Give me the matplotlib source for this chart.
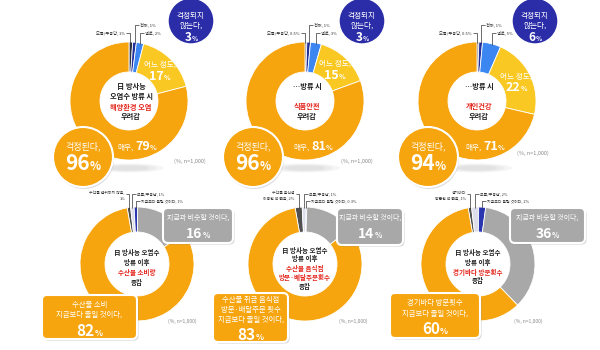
import matplotlib
matplotlib.use('Agg')
import numpy as np
import matplotlib.pyplot as plt
from matplotlib.patches import Circle, FancyBboxPatch, Ellipse

plt.rcParams['font.family'] = ['Noto Sans CJK KR', 'DejaVu Sans']

# ---------------- data ----------------
top_labels = ['모름/무응답', '전혀', '별로', '어느 정도', '매우']
top_values = [[1, 1, 2, 17, 79],
              [0.5, 1, 3, 15, 81],
              [0.5, 1, 5, 22, 71]]
top_titles = [[('日 방사능', 'k'), ('오염수 방류 시', 'k'), ('해양환경 오염', 'r'), ('우려감', 'k')],
              [('…방류 시', 'k'), ('', 'k'), ('식품안전', 'r'), ('우려감', 'k')],
              [('…방류 시', 'k'), ('', 'k'), ('개인건강', 'r'), ('우려감', 'k')]]
top_worry = [96, 96, 94]
top_noworry = [3, 3, 6]

bottom_na_labels = ['수산물 섭취하지 않음,\n1%', '수산물 음식점\n이용한 적 없음, 2%', '경기바다\n방문한 적 없음, 1%']
bottom_labels = ['모름/무응답', '지금보다 늘릴 것이다', '지금과 비슷할 것이다', '지금보다 줄일 것이다']
bottom_values = [[1, 1, 1, 16, 82],
                 [2, 1, 0.3, 14, 83],
                 [1, 2, 2, 36, 60]]
bottom_titles = [[('日 방사능 오염수', 'k'), ('방류 이후', 'k'), ('수산물 소비량', 'r'), ('증감', 'k')],
                 [('日 방사능 오염수', 'k'), ('방류 이후', 'k'), ('수산물 음식점', 'r'), ('방문·배달주문횟수', 'r'), ('증감', 'k')],
                 [('日 방사능 오염수', 'k'), ('방류 이후', 'k'), ('경기바다 방문횟수', 'r'), ('증감', 'k')]]
bottom_decrease_text = [['수산물 소비', '지금보다 줄일 것이다,'],
                        ['수산물 취급 음식점', '방문·배달주문 횟수', '지금보다 줄일 것이다,'],
                        ['경기바다 방문횟수', '지금보다 줄일 것이다,']]
note = '(%, n=1,000)'

# ---------------- style ----------------
W, H = 600, 350
C_ORANGE = '#F6A50F'
C_YELLOW = '#FAC823'
C_BLUE = '#3C86F2'
C_NAVY = '#23309A'
C_DARK = '#2E3440'
C_GRAY = '#A8A8A8'
C_LIGHT = '#DCDEEA'
C_CIRCLE = '#2B2DA8'
RED = '#E3241B'
BLACK = '#1E1E1E'
top_colors = [C_DARK, C_NAVY, C_BLUE, C_YELLOW, C_ORANGE]
bottom_colors = ['#505050', C_LIGHT, '#2A35B0', C_GRAY, C_ORANGE]

fig = plt.figure(figsize=(6, 3.5), dpi=100)
ax = fig.add_axes([0, 0, 1, 1])
renderer = fig.canvas.get_renderer()


def Y(y):
    return H - y


def rich(x, y, pieces, va='baseline', z=12):
    items = []
    for p in pieces:
        if isinstance(p, (int, float)):
            items.append(('gap', p))
            continue
        s, size, color, weight = p
        t = ax.text(0, Y(y), s, fontsize=size, color=color, fontweight=weight,
                    ha='left', va=va, zorder=z)
        items.append(('t', t))
    widths = []
    for kind, obj in items:
        widths.append(obj if kind == 'gap' else obj.get_window_extent(renderer).width)
    x0 = x - sum(widths) / 2
    for (kind, obj), w in zip(items, widths):
        if kind == 't':
            obj.set_x(x0)
        x0 += w


def slice_top(cx, cy, r, vals, idx, start_deg):
    tot = sum(vals)
    cum = sum(vals[:idx]) + vals[idx] / 2
    ang = np.deg2rad(start_deg + 360 * cum / tot)
    return cx + r * np.sin(ang), cy - r * np.cos(ang)


def leader(xs, ys, xl, yl):
    ax.plot([xs, xs, xl], [Y(ys), Y(yl), Y(yl)], color='#333333', lw=0.5, zorder=8,
            solid_capstyle='butt')


def num_pct(x, y, num, size, color='white'):
    rich(x, y, [(f'{num}', size, color, 'bold'), ('%', size * 0.55, color, 'bold')])


# ---------------- top row ----------------
top_cx = [129, 305, 477]
top_cy = 101
R_T, W_T = 59, 30
noworry_c = [(191, 21), (362, 21), (535, 21)]
worry_c = [(83, 157), (253, 157), (428, 157)]

for i in range(3):
    cx = top_cx[i]
    vals = top_values[i]
    for k in range(3):
        ax.add_patch(Ellipse((cx, Y(168)), 70 - 15 * k, 9 - 2 * k, color='#555555', alpha=0.06,
                             lw=0, zorder=1))
    ax.pie(vals, colors=top_colors, startangle=90, counterclock=False, radius=R_T,
           center=(cx, Y(top_cy)), frame=True,
           wedgeprops=dict(width=W_T, edgecolor='white', linewidth=0.6))
    ys = [86, 96, 107, 117]
    for (s, c), yy in zip(top_titles[i], ys):
        if s:
            ax.text(cx + 2, Y(yy), s, fontsize=5.2, fontweight='bold', ha='center', va='center',
                    color=RED if c == 'r' else BLACK, zorder=12)
    tot = sum(vals)
    mid = (sum(vals[:3]) + vals[3] / 2) / tot
    ang = 2 * np.pi * mid
    rm = R_T - W_T / 2
    lx, ly = cx + rm * np.sin(ang), top_cy - rm * np.cos(ang)
    ax.text(lx, Y(ly - 5), '어느 정도,', fontsize=5.5, color='white', ha='center', va='center', zorder=12)
    num_pct(lx, ly + 10, vals[3], 9)
    rich(cx + 8, top_cy + 49, [('매우,', 5.5, 'white', 'normal'), 2,
                                (f'{vals[4]}', 9, 'white', 'bold'), ('%', 5, 'white', 'bold')])
    x0, y0 = slice_top(cx, top_cy, R_T, vals, 0, 0)
    x1, y1 = slice_top(cx, top_cy, R_T, vals, 1, 0)
    x2, y2 = slice_top(cx, top_cy, R_T, vals, 2, 0)
    leader(x0 - 0.5, y0 + 1, x0 - 5, 33)
    ax.text(x0 - 6, Y(33), f'{top_labels[0]}, {vals[0]}%', fontsize=3, ha='right', va='center', color='#333333')
    leader(x1, y1 + 1, x1 + 4, 25)
    ax.text(x1 + 5, Y(25), f'{top_labels[1]}, {vals[1]}%', fontsize=3, ha='left', va='center', color='#333333')
    leader(x2, y2 + 1, x2 + 4, 33)
    ax.text(x2 + 5, Y(33), f'{top_labels[2]}, {vals[2]}%', fontsize=3, ha='left', va='center', color='#333333')
    ncx, ncy = noworry_c[i]
    ax.add_patch(Circle((ncx, Y(ncy)), 23, facecolor=C_CIRCLE, edgecolor='white', lw=1, zorder=9))
    ax.text(ncx, Y(16), '걱정되지', fontsize=5.5, color='white', ha='center', va='center', zorder=12)
    ax.text(ncx, Y(26), '않는다,', fontsize=5.5, color='white', ha='center', va='center', zorder=12)
    num_pct(ncx, 41, top_noworry[i], 8.5)
    wcx, wcy = worry_c[i]
    ax.add_patch(Circle((wcx + 1, Y(wcy + 2)), 30, facecolor='#777777', alpha=0.25, lw=0, zorder=8))
    ax.add_patch(Circle((wcx, Y(wcy)), 30, facecolor=C_ORANGE, edgecolor='white', lw=1.5, zorder=9))
    ax.text(wcx, Y(146), '걱정된다,', fontsize=6.5, color='white', ha='center', va='center', zorder=12)
    num_pct(wcx, 170, top_worry[i], 15)
    ax.text([190, 357, 533][i], Y([161, 161, 153][i]), note, fontsize=4, color='#888888',
            ha='center', va='center', zorder=12)

# ---------------- bottom row ----------------
bot_cx = [137, 305, 478]
bot_cy = 264
R_B, W_B = 57, 25
START_B = -10
gray_boxes = [(163, 208, 233, 243), (337, 208, 403, 245), (510, 208, 585, 243)]
orange_boxes = [(42, 295, 137, 339), (213, 293, 288, 342), (390, 293, 480, 338)]
dec_y = [[305, 315], [300, 310, 320], [303, 314]]
dec_num_y = [336, 340, 334]
title_y = [[252, 262, 272, 282], [250, 259, 268, 277, 286], [253, 263, 272, 281]]

for i in range(3):
    cx = bot_cx[i]
    vals = bottom_values[i]
    ax.pie(vals, colors=bottom_colors, startangle=90 - START_B, counterclock=False, radius=R_B,
           center=(cx, Y(bot_cy)), frame=True,
           wedgeprops=dict(width=W_B, edgecolor='white', linewidth=0.6))
    for (s, c), yy in zip(bottom_titles[i], title_y[i]):
        ax.text(cx, Y(yy), s, fontsize=4.7, fontweight='bold', ha='center', va='center',
                color=RED if c == 'r' else BLACK, zorder=12)
    x0, y0 = slice_top(cx, bot_cy, R_B, vals, 0, START_B)
    x1, y1 = slice_top(cx, bot_cy, R_B, vals, 1, START_B)
    x2, y2 = slice_top(cx, bot_cy, R_B, vals, 2, START_B)
    leader(x0, y0 + 1, x0 - 3, 194)
    ax.text(x0 - 4, Y(196), bottom_na_labels[i], fontsize=2.8, ha='right', va='center',
            color='#333333', linespacing=1.4, multialignment='right')
    leader(x1, y1 + 1, x1 + 4, 194)
    ax.text(x1 + 5, Y(194), f'{bottom_labels[0]}, {vals[1]}%', fontsize=2.8, ha='left', va='center', color='#333333')
    leader(x2, y2 + 1, x2 + 4, 201)
    ax.text(x2 + 5, Y(201), f'{bottom_labels[1]}, {vals[2]}%', fontsize=2.8, ha='left', va='center', color='#333333')
    gx0, gy0, gx1, gy1 = gray_boxes[i]
    ax.add_patch(FancyBboxPatch((gx0 + 1.5, Y(gy1 + 1.5)), gx1 - gx0, gy1 - gy0,
                                boxstyle='round,pad=0,rounding_size=5', facecolor='#666666',
                                alpha=0.3, lw=0, zorder=8))
    ax.add_patch(FancyBboxPatch((gx0, Y(gy1)), gx1 - gx0, gy1 - gy0,
                                boxstyle='round,pad=0,rounding_size=5', facecolor=C_GRAY,
                                edgecolor='white', lw=1.5, zorder=9))
    gcx = (gx0 + gx1) / 2
    ax.text(gcx, Y(gy0 + 10), f'{bottom_labels[2]},', fontsize=5, color='white', ha='center',
            va='center', zorder=12)
    num_pct(gcx, gy0 + 30, vals[3], 10)
    ox0, oy0, ox1, oy1 = orange_boxes[i]
    ax.add_patch(FancyBboxPatch((ox0 + 1.5, Y(oy1 + 1.5)), ox1 - ox0, oy1 - oy0,
                                boxstyle='round,pad=0,rounding_size=5', facecolor='#666666',
                                alpha=0.3, lw=0, zorder=8))
    ax.add_patch(FancyBboxPatch((ox0, Y(oy1)), ox1 - ox0, oy1 - oy0,
                                boxstyle='round,pad=0,rounding_size=5', facecolor=C_ORANGE,
                                edgecolor='white', lw=1.5, zorder=9))
    ocx = (ox0 + ox1) / 2
    for s, yy in zip(bottom_decrease_text[i], dec_y[i]):
        ax.text(ocx, Y(yy), s, fontsize=5.3, color='white', ha='center', va='center', zorder=12)
    num_pct(ocx, dec_num_y[i], vals[4], 11)
    ax.text([182, 353, 528][i], Y(321), note, fontsize=3.5, color='#888888', ha='center',
            va='center', zorder=12)

ax.set_xlim(0, W)
ax.set_ylim(0, H)
ax.set_aspect('equal')
ax.axis('off')
fig.savefig('out.png', dpi=100)
